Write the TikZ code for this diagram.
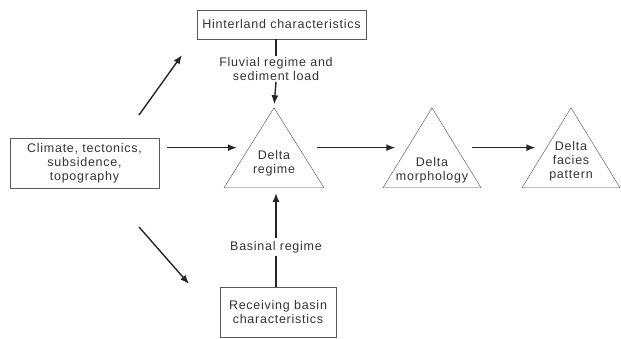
\documentclass[tikz,border=0pt]{standalone}
\usepackage{fontspec}
\setmainfont{Liberation Sans}[LetterSpace=6]
\usetikzlibrary{arrows.meta}
\usetikzlibrary{shapes.geometric}
\usetikzlibrary{positioning}
\begin{document}
\begin{tikzpicture}[
  x=1pt,y=-1pt,
  font=\fontsize{12.5}{14}\selectfont,
  every node/.style={align=center,text=black!80},
  box/.style={draw=black!65,thin,inner sep=0pt},
  delta/.style={draw=black!70,thin,isosceles triangle,isosceles triangle stretches,
    shape border rotate=90,minimum width=100pt,minimum height=80pt,inner sep=0pt,anchor=lower side},
  lbl/.style={inner sep=1pt},
  link/.style={line width=1.4pt,draw=black!85},
  to/.style={link,-{Latex[length=9pt,width=7pt]}}]

  \useasboundingbox (0,0) rectangle (621,339);

  % boxes
  \node[box,minimum width=169pt,minimum height=29pt] (hinterland) at (281.5,24.5) {Hinterland characteristics};
  \node[box,minimum width=149pt,minimum height=50pt] (climate) at (84.5,163) {Climate, tectonics,\\subsidence,\\topography};
  \node[box,minimum width=116pt,minimum height=50pt] (basin) at (278,312) {Receiving basin\\characteristics};

  % triangles
  \node[delta] (regime) at (274,188) {};
  \node[delta,minimum width=98pt] (morph) at (432,188) {};
  \node[delta,minimum width=98pt] (facies) at (571,188) {};
  \node (regimetxt) at (274,163.5) {Delta\\regime};
  \node (morphtxt) at (432,170.5) {Delta\\morphology};
  \node (faciestxt) at (571,161) {Delta\\facies\\pattern};

  % labels on the vertical links
  \node[lbl] (fluvial) at (276,69) {Fluvial regime and\\sediment load};
  \node[lbl,inner sep=3pt] (basinal) at (276,247) {Basinal regime};

  % free arrows from the controls
  \coordinate (upA) at (139,115);
  \coordinate (upB) at (182,55);
  \coordinate (dnA) at (139,227);
  \coordinate (dnB) at (189,284);

  \draw[link] (hinterland.south -| fluvial) -- (fluvial.north);
  \draw[to,shorten >=3pt] (fluvial.south) -- (regime.apex);
  \draw[link] (basin.north -| basinal) -- (basinal.south);
  \draw[to,shorten >=5pt] (basinal.north) -- (basinal.north |- regime.lower side);

  \draw[to,shorten <=8pt,shorten >=12pt] (climate.east |- regime.left side) -- (regime.left side);
  \draw[to,shorten <=18pt,shorten >=12pt] (regime.right side) -- (morph.left side);
  \draw[to,shorten <=15pt,shorten >=11pt] (morph.right side) -- (facies.left side);

  \draw[to] (upA) -- (upB);
  \draw[to] (dnA) -- (dnB);
\end{tikzpicture}
\end{document}
